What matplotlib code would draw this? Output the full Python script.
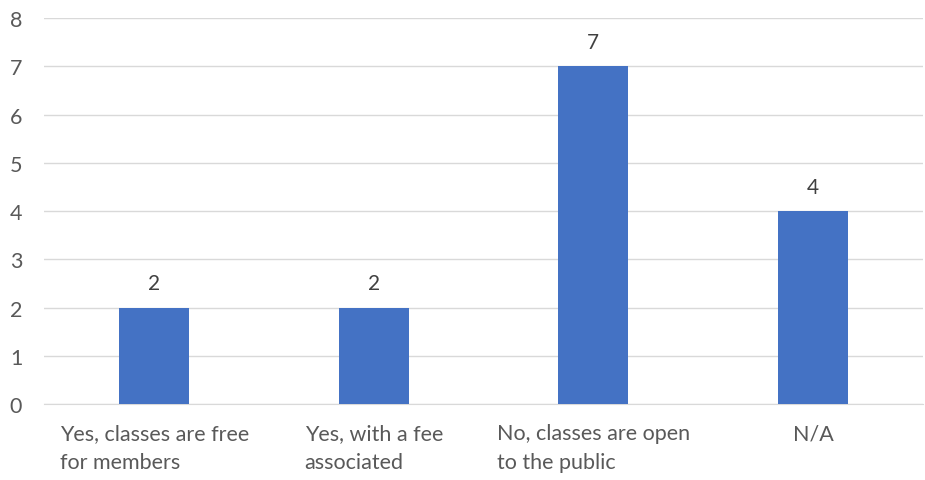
import matplotlib.pyplot as plt

categories = ["Yes, classes are free\nfor members", "Yes, with a fee\nassociated",
              "No, classes are open\nto the public", "N/A"]
values = [2, 2, 7, 4]

plt.rcParams['font.family'] = ['Lato', 'DejaVu Sans']

fig = plt.figure(figsize=(9.25, 4.81), dpi=100)
ax = fig.add_axes([0.048, 0.158, 0.9495, 0.8025])

x = range(len(categories))
bars = ax.bar(x, values, width=0.32, color='#4472C4', zorder=3)
for b, v in zip(bars, values):
    ax.text(b.get_x() + b.get_width() / 2, v + 0.3, str(v), ha='center', va='bottom',
            fontsize=15, color='#404040')

ax.set_xlim(-0.5, len(categories) - 0.5)
ax.set_ylim(0, 8)
ax.set_yticks(range(0, 9))
ax.grid(axis='y', color='#d9d9d9', linewidth=1, zorder=0)
ax.set_xticks(list(x))
ax.set_xticklabels(categories, multialignment='left', linespacing=1.55)
ax.tick_params(axis='both', length=0, labelsize=15.5, colors='#595959')
ax.tick_params(axis='x', pad=14)
ax.tick_params(axis='y', pad=16)
for s in ['top', 'right', 'left']:
    ax.spines[s].set_visible(False)
ax.spines['bottom'].set_color('#d9d9d9')

fig.savefig('out.png', dpi=100)
